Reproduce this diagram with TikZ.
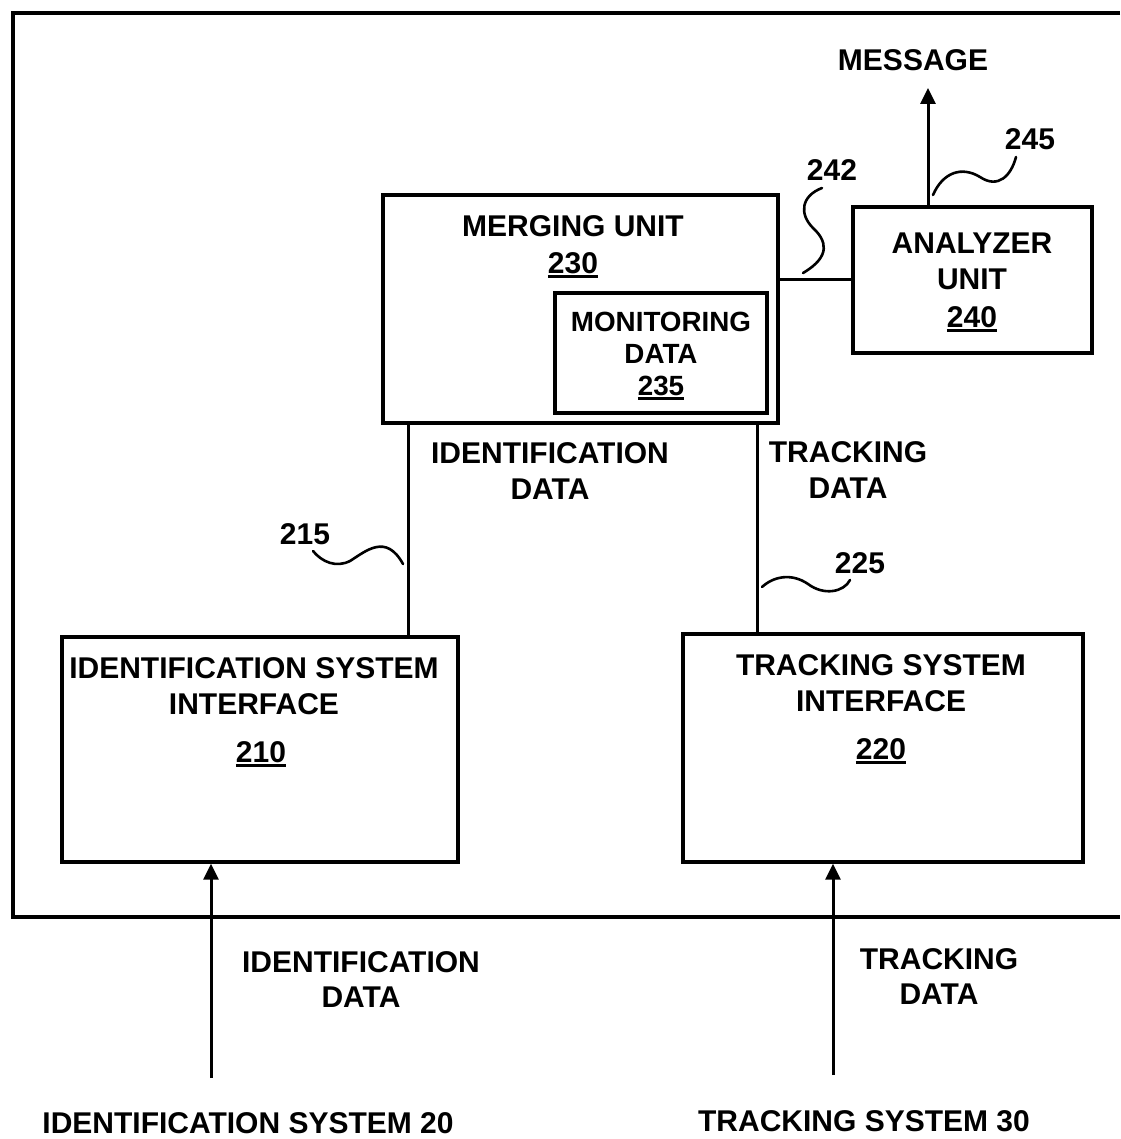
\documentclass[tikz,border=0pt]{standalone}
\usepackage{fontspec}
\setmainfont{Liberation Sans}
\usetikzlibrary{arrows.meta}
\newcommand\ulnum[1]{\setbox0\hbox{#1}\rlap{\rule[-5pt]{\wd0}{2.6pt}}\box0}
\tikzset{
  boxshape/.style={draw, line width=3.3pt, inner sep=0pt},
  lbl/.style={inner sep=0pt, anchor=base, font=\fontsize{30}{36}\selectfont\bfseries},
  sublbl/.style={inner sep=0pt, anchor=base, font=\fontsize{27.8}{32}\selectfont\bfseries},
  conn/.style={line width=3pt},
  squig/.style={line width=2.6pt, line cap=round},
  arr/.style={line width=3pt, -{Triangle[length=16pt,width=15pt]}}
}
\begin{document}
\begin{tikzpicture}[x=1pt,y=-1pt]
\useasboundingbox (0,0) rectangle (1120,1139);
% outer frame (open on the right)
\draw[line width=3.4pt] (1120,13) -- (13,13) -- (13,917) -- (1120,917);
% boxes
\node[boxshape, minimum width=395pt, minimum height=228pt] (merge) at (580.5,309) {};
\node[boxshape, minimum width=212pt, minimum height=120pt] (monitor) at (661,353) {};
\node[boxshape, minimum width=239pt, minimum height=146pt] (analyzer) at (972.5,280) {};
\node[boxshape, minimum width=396pt, minimum height=225pt] (idif) at (260,749.5) {};
\node[boxshape, minimum width=400pt, minimum height=228pt] (trif) at (883,748) {};
% texts
\node[lbl] (tmsg) at (913,71) {MESSAGE};
\node[lbl] (t245) at (1030,150) {245};
\node[lbl] (t242) at (832,181) {242};
\node[lbl] (tmerge1) at (573,237) {MERGING UNIT};
\node[lbl] (tmerge2) at (573,273) {\ulnum{230}};
\node[sublbl] (tmon1) at (661,331) {MONITORING};
\node[sublbl] (tmon2) at (661,363) {DATA};
\node[sublbl] (tmon3) at (661,395) {\ulnum{235}};
\node[lbl] (tan1) at (972,254) {ANALYZER};
\node[lbl] (tan2) at (972,290) {UNIT};
\node[lbl] (tan3) at (972,327) {\ulnum{240}};
\node[lbl] (tidd1) at (550,463) {IDENTIFICATION};
\node[lbl] (tidd2) at (550,499) {DATA};
\node[lbl] (ttrd1) at (848,462) {TRACKING};
\node[lbl] (ttrd2) at (848,498) {DATA};
\node[lbl] (t215) at (305,544) {215};
\node[lbl] (t225) at (860,573) {225};
\node[lbl] (tid1) at (254,678) {IDENTIFICATION SYSTEM};
\node[lbl] (tid2) at (254,714) {INTERFACE};
\node[lbl] (tid3) at (261,762) {\ulnum{210}};
\node[lbl] (ttr1) at (881,675) {TRACKING SYSTEM};
\node[lbl] (ttr2) at (881,711) {INTERFACE};
\node[lbl] (ttr3) at (881,759) {\ulnum{220}};
\node[lbl] (tbid1) at (361,972) {IDENTIFICATION};
\node[lbl] (tbid2) at (361,1007) {DATA};
\node[lbl] (tbtr1) at (939,969) {TRACKING};
\node[lbl] (tbtr2) at (939,1004) {DATA};
\node[lbl] (tsys20) at (248,1133) {IDENTIFICATION SYSTEM 20};
\node[lbl] (tsys30) at (864,1131) {TRACKING SYSTEM 30};
% coordinates
\coordinate (x215) at (408,0);
\coordinate (x225) at (757,0);
\coordinate (y242) at (0,280);
\coordinate (xmsg) at (928,0);
\coordinate (msgtip) at (928,88);
\coordinate (src20) at (211,1078);
\coordinate (src30) at (833,1075);
% connectors
\draw[conn] (merge.south -| x215) -- (idif.north -| x215);
\draw[conn] (merge.south -| x225) -- (trif.north -| x225);
\draw[conn] (merge.east |- y242) -- (analyzer.west |- y242);
\draw[arr] (analyzer.north -| xmsg) -- (msgtip);
\draw[arr] (src20) -- (idif.south -| src20);
\draw[arr] (src30) -- (trif.south -| src30);
% reference squiggles
\draw[squig] (803,273) .. controls (832,256) and (826,240) .. (813,228) .. controls (799,214) and (801,196) .. (822,188);
\draw[squig] (933,195) .. controls (943,172) and (962,166) .. (980,177) .. controls (998,189) and (1011,176) .. (1016,157);
\draw[squig] (313,551) .. controls (322,562) and (336,568) .. (350,561) .. controls (366,551) and (386,533) .. (403,564);
\draw[squig] (762,587) .. controls (774,576) and (792,573) .. (808,584) .. controls (824,596) and (844,592) .. (850,580);
\end{tikzpicture}
\end{document}
